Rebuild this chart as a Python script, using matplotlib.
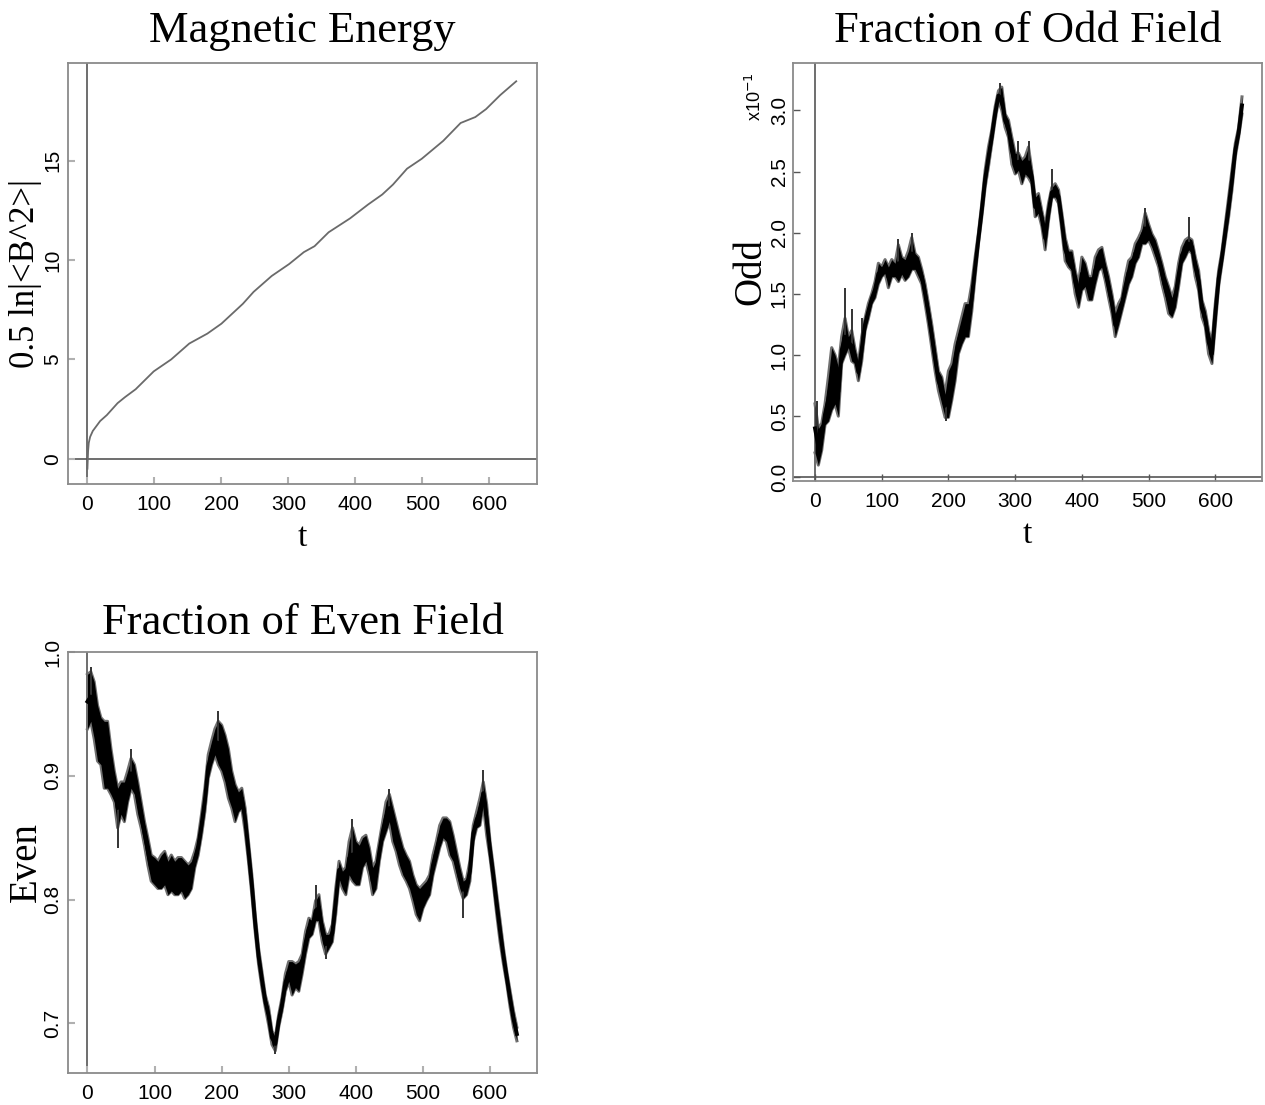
import numpy as np
import matplotlib
matplotlib.use("Agg")
import matplotlib.pyplot as plt

# ---- data ----
# magnetic energy, 0.5 ln|<B^2>| (smooth)
t_energy = [0, 1, 2, 4, 8, 19, 29, 45, 56, 72, 99, 125, 152, 179, 200, 232, 248,
            275, 301, 323, 339, 360, 392, 419, 440, 456, 477, 499, 531, 557, 579,
            595, 616, 640]
energy = [-0.5, 0.4, 0.8, 1.1, 1.4, 1.9, 2.2, 2.8, 3.1, 3.5, 4.4, 5.0, 5.8, 6.3,
          6.8, 7.8, 8.4, 9.2, 9.8, 10.4, 10.7, 11.4, 12.1, 12.8, 13.3, 13.8, 14.6,
          15.1, 16.0, 16.9, 17.2, 17.6, 18.3, 19.0]

# odd / even fraction sampled every 5 time units: upper and lower edge of the noisy band
t_field = np.arange(0, 645, 5)

odd_hi = [0.60, 0.40, 0.44, 0.60, 0.82, 1.06, 1.00, 0.90, 1.15, 1.30,
          1.15, 1.20, 1.05, 0.93, 1.15, 1.30, 1.42, 1.50, 1.60, 1.75,
          1.72, 1.78, 1.72, 1.78, 1.75, 1.90, 1.80, 1.78, 1.85, 1.96,
          1.83, 1.80, 1.70, 1.58, 1.42, 1.25, 1.06, 0.87, 0.82, 0.68,
          0.87, 0.93, 1.09, 1.20, 1.31, 1.42, 1.42, 1.58, 1.80, 2.00,
          2.24, 2.51, 2.70, 2.84, 3.03, 3.16, 3.19, 2.97, 2.92, 2.78,
          2.65, 2.65, 2.59, 2.62, 2.70, 2.51, 2.29, 2.32, 2.18, 2.05,
          2.24, 2.37, 2.40, 2.35, 2.16, 1.96, 1.85, 1.85, 1.69, 1.58,
          1.80, 1.75, 1.64, 1.64, 1.80, 1.86, 1.88, 1.75, 1.64, 1.50,
          1.34, 1.42, 1.47, 1.64, 1.77, 1.80, 1.91, 1.96, 2.02, 2.16,
          2.07, 1.99, 1.94, 1.85, 1.75, 1.64, 1.56, 1.47, 1.56, 1.75,
          1.88, 1.94, 1.96, 1.94, 1.80, 1.69, 1.45, 1.36, 1.20, 1.09,
          1.42, 1.69, 1.85, 2.07, 2.29, 2.51, 2.73, 2.86, 3.11]
odd_lo = [0.20, 0.10, 0.22, 0.43, 0.46, 0.55, 0.60, 0.50, 0.93, 1.00,
          1.06, 0.95, 0.93, 0.79, 0.95, 1.20, 1.30, 1.42, 1.47, 1.58,
          1.64, 1.67, 1.55, 1.64, 1.64, 1.60, 1.66, 1.61, 1.64, 1.70,
          1.70, 1.64, 1.58, 1.42, 1.25, 1.06, 0.87, 0.71, 0.60, 0.49,
          0.49, 0.63, 0.79, 1.01, 1.09, 1.15, 1.15, 1.36, 1.64, 1.91,
          2.13, 2.37, 2.54, 2.73, 2.92, 3.08, 3.00, 2.86, 2.78, 2.56,
          2.48, 2.51, 2.40, 2.48, 2.45, 2.40, 2.13, 2.16, 2.05, 1.86,
          2.10, 2.29, 2.29, 2.24, 2.02, 1.77, 1.72, 1.69, 1.50, 1.39,
          1.53, 1.56, 1.45, 1.45, 1.58, 1.69, 1.72, 1.61, 1.47, 1.34,
          1.15, 1.25, 1.36, 1.47, 1.58, 1.64, 1.75, 1.80, 1.91, 1.91,
          1.94, 1.88, 1.80, 1.72, 1.58, 1.47, 1.34, 1.31, 1.39, 1.56,
          1.75, 1.80, 1.86, 1.83, 1.64, 1.53, 1.31, 1.23, 1.01, 0.93,
          1.25, 1.56, 1.75, 1.94, 2.13, 2.35, 2.62, 2.78, 2.97]
odd_spike_t = [3, 45, 55, 70, 125, 145, 197, 277, 305, 320, 355, 495, 560]
odd_spike_v = [0.62, 1.55, 1.38, 1.30, 1.95, 2.00, 0.46, 3.22, 2.75, 2.75, 2.52, 2.20, 2.13]

even_hi = [0.982, 0.984, 0.976, 0.957, 0.947, 0.944, 0.944, 0.922, 0.904, 0.890,
           0.895, 0.895, 0.904, 0.914, 0.909, 0.895, 0.879, 0.863, 0.850, 0.836,
           0.834, 0.831, 0.836, 0.839, 0.831, 0.836, 0.831, 0.834, 0.834, 0.831,
           0.828, 0.831, 0.839, 0.850, 0.869, 0.890, 0.917, 0.928, 0.938, 0.944,
           0.941, 0.933, 0.922, 0.904, 0.893, 0.887, 0.890, 0.874, 0.847, 0.820,
           0.788, 0.761, 0.742, 0.723, 0.713, 0.694, 0.689, 0.707, 0.721, 0.740,
           0.750, 0.750, 0.748, 0.750, 0.756, 0.774, 0.785, 0.783, 0.799, 0.804,
           0.783, 0.772, 0.772, 0.780, 0.809, 0.831, 0.823, 0.826, 0.847, 0.858,
           0.847, 0.844, 0.850, 0.852, 0.842, 0.826, 0.831, 0.847, 0.863, 0.879,
           0.885, 0.874, 0.863, 0.852, 0.842, 0.836, 0.831, 0.820, 0.812, 0.809,
           0.812, 0.815, 0.820, 0.836, 0.847, 0.860, 0.866, 0.866, 0.863, 0.852,
           0.839, 0.826, 0.815, 0.817, 0.831, 0.860, 0.871, 0.882, 0.895, 0.877,
           0.847, 0.826, 0.804, 0.783, 0.761, 0.742, 0.726, 0.710, 0.697]
even_lo = [0.938, 0.944, 0.930, 0.912, 0.909, 0.890, 0.890, 0.885, 0.879, 0.858,
           0.869, 0.863, 0.879, 0.890, 0.885, 0.869, 0.858, 0.844, 0.828, 0.815,
           0.812, 0.809, 0.809, 0.812, 0.804, 0.807, 0.804, 0.804, 0.807, 0.801,
           0.804, 0.809, 0.826, 0.836, 0.852, 0.871, 0.898, 0.909, 0.917, 0.909,
           0.904, 0.895, 0.882, 0.874, 0.863, 0.871, 0.874, 0.855, 0.831, 0.804,
           0.774, 0.748, 0.729, 0.713, 0.699, 0.683, 0.678, 0.697, 0.710, 0.726,
           0.734, 0.723, 0.729, 0.726, 0.740, 0.756, 0.769, 0.772, 0.783, 0.783,
           0.766, 0.756, 0.761, 0.766, 0.788, 0.817, 0.809, 0.804, 0.820, 0.815,
           0.812, 0.812, 0.826, 0.831, 0.820, 0.804, 0.809, 0.831, 0.847, 0.855,
           0.863, 0.847, 0.839, 0.828, 0.820, 0.815, 0.809, 0.799, 0.788, 0.783,
           0.793, 0.799, 0.804, 0.820, 0.831, 0.842, 0.850, 0.847, 0.836, 0.831,
           0.820, 0.809, 0.801, 0.804, 0.815, 0.847, 0.858, 0.860, 0.877, 0.852,
           0.834, 0.812, 0.788, 0.766, 0.748, 0.732, 0.713, 0.697, 0.686]
even_spike_t = [5, 45, 65, 195, 280, 340, 355, 395, 450, 560, 590]
even_spike_v = [0.988, 0.842, 0.922, 0.952, 0.675, 0.812, 0.752, 0.865, 0.889, 0.785, 0.905]

x_ticks = [0, 100, 200, 300, 400, 500, 600]

SERIF = "Liberation Serif"
SANS = "Liberation Sans"
FRAME = "#8a8a8a"


def style(ax, xlim, ylim, yticks, ylabels):
    ax.set_xlim(*xlim)
    ax.set_ylim(*ylim)
    for s in ax.spines.values():
        s.set_color(FRAME)
        s.set_linewidth(1.3)
    ax.set_xticks(x_ticks)
    ax.set_xticklabels([str(v) for v in x_ticks], family=SANS, fontsize=15)
    ax.set_yticks(yticks)
    ax.set_yticklabels(ylabels, family=SANS, fontsize=15, rotation=90, va="center")
    ax.tick_params(direction="in", length=5, width=1.5, color="#b0b0b0")
    ax.tick_params(axis="x", pad=8)
    ax.tick_params(axis="y", pad=4)


def band(ax, lo, hi, spike_t, spike_v):
    lo = np.asarray(lo)
    hi = np.asarray(hi)
    ax.plot(t_field, lo, color="#707070", lw=2.2, zorder=2)
    ax.plot(t_field, hi, color="#707070", lw=2.2, zorder=2)
    ax.fill_between(t_field, lo, hi, color="black", lw=0, zorder=3)
    ax.plot(t_field, (lo + hi) / 2, color="black", lw=2.8, zorder=4)
    base = np.interp(spike_t, t_field, (lo + hi) / 2)
    ax.vlines(spike_t, base, spike_v, color="#333333", lw=1.4, zorder=3)


W, H = 1265, 1105
fig = plt.figure(figsize=(W / 100, H / 100), dpi=100)


def box(l, r, t, b):
    return [l / W, 1 - b / H, (r - l) / W, (b - t) / H]


# Magnetic Energy
ax1 = fig.add_axes(box(68, 537, 63, 484))
ax1.plot(t_energy, energy, color="#6a6a6a", lw=1.3, zorder=3)
ax1.axhline(0, color="#555555", lw=1.2, zorder=1)
ax1.axvline(0, color="#555555", lw=1.2, zorder=1)
style(ax1, (-29, 671), (-1.27, 19.92), [0, 5, 10, 15], ["0", "5", "10", "15"])
ax1.set_title("Magnetic Energy", family=SERIF, fontsize=32, pad=15)
ax1.set_ylabel("0.5 ln|<B^2>|", family=SERIF, fontsize=25)
ax1.yaxis.set_label_coords(-0.056, 0.5)
ax1.set_xlabel("t", family=SERIF, fontsize=24, labelpad=6)

# Fraction of Odd Field (units of 1e-1)
ax2 = fig.add_axes(box(793, 1262, 63, 481))
band(ax2, odd_lo, odd_hi, odd_spike_t, odd_spike_v)
ax2.axvline(0, color="#555555", lw=1.2, zorder=1)
ax2.axhline(0, color="#555555", lw=1.2, zorder=1)
style(ax2, (-33, 670), (-0.03, 3.387),
      [0.0, 0.5, 1.0, 1.5, 2.0, 2.5, 3.0],
      ["0.0", "0.5", "1.0", "1.5", "2.0", "2.5", "3.0"])
ax2.tick_params(color="#555555", width=1.0)
ax2.tick_params(axis="y", pad=3)
ax2.set_title("Fraction of Odd Field", family=SERIF, fontsize=32, pad=15)
ax2.set_ylabel("Odd", family=SERIF, fontsize=28)
ax2.yaxis.set_label_coords(-0.05, 0.5)
ax2.set_xlabel("t", family=SERIF, fontsize=24, labelpad=6)
fig.text(755 / W, 1 - 97 / H, r"x10$^{-1}$", family=SANS, fontsize=13,
         rotation=90, ha="center", va="center")

# Fraction of Even Field
ax3 = fig.add_axes(box(68, 537, 652, 1073))
band(ax3, even_lo, even_hi, even_spike_t, even_spike_v)
ax3.axvline(0, color="#555555", lw=1.2, zorder=1)
style(ax3, (-29, 670), (0.66, 1.0), [0.7, 0.8, 0.9, 1.0], ["0.7", "0.8", "0.9", "1.0"])
ax3.set_title("Fraction of Even Field", family=SERIF, fontsize=32, pad=13)
ax3.set_ylabel("Even", family=SERIF, fontsize=28)
ax3.yaxis.set_label_coords(-0.05, 0.5)

fig.savefig("out.png", dpi=100)
